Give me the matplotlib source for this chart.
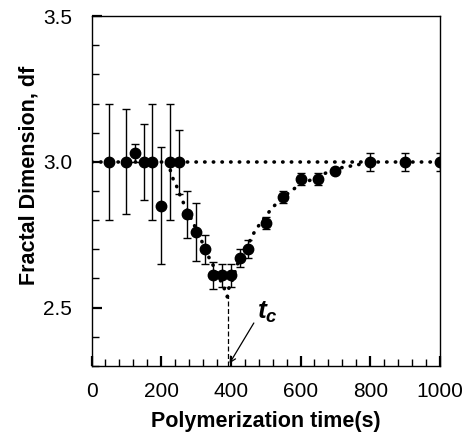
import numpy as np
import matplotlib
matplotlib.use("Agg")
import matplotlib.pyplot as plt
from matplotlib.ticker import MultipleLocator, FormatStrFormatter

# measured points
time_s = [50, 100, 125, 150, 175, 200, 225, 250, 275, 300, 325, 350, 375, 400,
          425, 450, 500, 550, 600, 650, 700, 800, 900, 1000]
df_vals = [3.00, 3.00, 3.03, 3.00, 3.00, 2.85, 3.00, 3.00, 2.82, 2.76, 2.70, 2.61, 2.61, 2.61,
           2.67, 2.70, 2.79, 2.88, 2.94, 2.94, 2.97, 3.00, 3.00, 3.00]
df_err = [0.20, 0.18, 0.03, 0.13, 0.20, 0.20, 0.20, 0.11, 0.08, 0.10, 0.05, 0.045, 0.04, 0.04,
          0.03, 0.03, 0.02, 0.02, 0.02, 0.02, 0.01, 0.03, 0.03, 0.03]

# dotted guide curves
flat_t = [0, 1000]
flat_df = [3.0, 3.0]
fall_t = [220, 227, 234, 244, 256, 266, 290, 313, 330, 342, 363, 373, 383, 390]
fall_df = [3.0, 2.967, 2.942, 2.917, 2.879, 2.854, 2.795, 2.738, 2.687, 2.661, 2.613, 2.585, 2.56, 2.537]
rise_t = [390, 392, 405, 418, 440, 464, 478, 517, 531, 569, 589, 622, 675, 713, 746, 765, 785, 800]
rise_df = [2.537, 2.56, 2.596, 2.647, 2.693, 2.752, 2.778, 2.84, 2.857, 2.897, 2.914, 2.934, 2.963,
           2.979, 2.986, 2.99, 2.997, 3.0]

tc = 392
tc_df = 2.537

plt.rcParams['font.family'] = ['Liberation Sans', 'DejaVu Sans']
plt.rcParams['mathtext.fontset'] = 'custom'
plt.rcParams['mathtext.it'] = 'Liberation Sans:italic:bold'
plt.rcParams['mathtext.rm'] = 'Liberation Sans:bold'

fig = plt.figure(figsize=(4.67, 4.37), dpi=100)
ax = fig.add_axes([0.196, 0.163, 0.746, 0.800])

dot = dict(color="black", linestyle=(0, (0.1, 2.3)), linewidth=2.6, dash_capstyle="round")
ax.plot(flat_t, flat_df, **dot)
ax.plot(fall_t, fall_df, **dot)
ax.plot(rise_t, rise_df, **dot)

ax.errorbar(time_s, df_vals, yerr=df_err, fmt="o", color="black", markersize=7.5,
            ecolor="black", elinewidth=1.0, capsize=3, capthick=1.0, zorder=3)

ax.plot([tc, tc], [2.3, tc_df], color="black", linestyle=(0, (4, 2)), linewidth=0.9)
ax.annotate("", xy=(tc, 2.3), xytext=(470, 2.455),
            arrowprops=dict(arrowstyle="->", color="black", lw=0.9))
ax.text(475, 2.46, r"$t_c$", fontsize=19)

ax.set_xlim(0, 1000)
ax.set_ylim(2.3, 3.5)
ax.xaxis.set_major_locator(MultipleLocator(200))
ax.xaxis.set_minor_locator(MultipleLocator(40))
ax.yaxis.set_major_locator(MultipleLocator(0.5))
ax.yaxis.set_minor_locator(MultipleLocator(0.1))
ax.yaxis.set_major_formatter(FormatStrFormatter("%.1f"))
ax.tick_params(which="both", direction="in", top=False, right=False)
ax.tick_params(which="major", length=7, width=1.6, labelsize=15)
ax.tick_params(axis="x", which="major", pad=12)
ax.tick_params(axis="y", which="major", pad=14)
ax.tick_params(which="minor", length=5, width=1.0)
for s in ax.spines.values():
    s.set_linewidth(1.0)

ax.set_xlabel("Polymerization time(s)", fontsize=15.5, fontweight="bold")
ax.xaxis.set_label_coords(0.5, -0.13)
ax.set_ylabel("Fractal Dimension, df", fontsize=15.5, fontweight="bold")
ax.yaxis.set_label_coords(-0.15, 0.545)

fig.savefig("out.png", dpi=100)
